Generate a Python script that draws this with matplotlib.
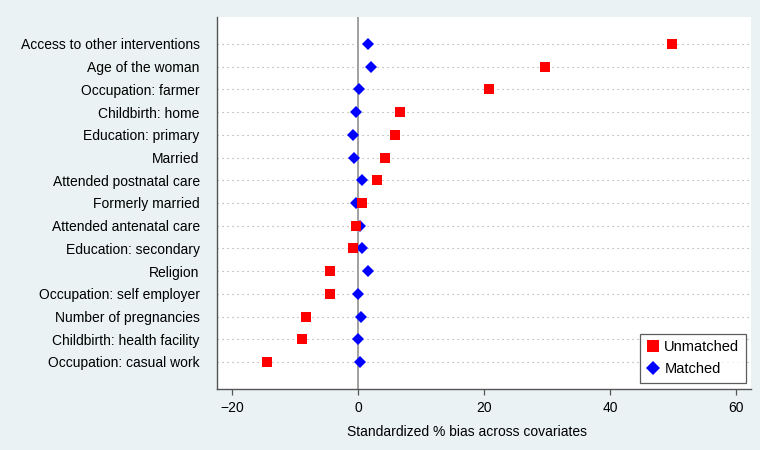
import matplotlib
matplotlib.use("Agg")
import matplotlib.pyplot as plt

covariates = [
    "Access to other interventions",
    "Age of the woman",
    "Occupation: farmer",
    "Childbirth: home",
    "Education: primary",
    "Married",
    "Attended postnatal care",
    "Formerly married",
    "Attended antenatal care",
    "Education: secondary",
    "Religion",
    "Occupation: self employer",
    "Number of pregnancies",
    "Childbirth: health facility",
    "Occupation: casual work",
]
unmatched = [49.7, 29.6, 20.7, 6.7, 5.9, 4.3, 3.0, 0.6, -0.4, -0.9, -4.5, -4.5, -8.3, -8.9, -14.4]
matched = [1.6, 2.0, 0.2, -0.3, -0.8, -0.7, 0.6, -0.3, 0.35, 0.6, 1.6, 0.0, 0.5, 0.0, 0.35]
xticks = [-20, 0, 20, 40, 60]

BG = "#EAF2F3"
plt.rcParams['font.family'] = ['Liberation Sans', 'DejaVu Sans']
FS = 10.0

fig = plt.figure(figsize=(7.6, 4.5), dpi=100, facecolor=BG)
ax = fig.add_axes([217/760, 1-389/450, (751-217)/760, (389-16.7)/450])
ax.set_facecolor("white")

n = len(covariates)
ypos = list(range(n, 0, -1))

for y in ypos:
    ax.axhline(y, color="#a0a0a0", linestyle=(0, (1, 3.5)), linewidth=0.8, zorder=1)
ax.axvline(0, color="#999999", linewidth=1.3, zorder=2)

ax.plot(matched, ypos, linestyle="none", marker="D", markersize=6.0,
        color="#0000FF", markeredgewidth=0, zorder=3, label="Matched")
ax.plot(unmatched, ypos, linestyle="none", marker="s", markersize=7.5,
        color="#FF0000", markeredgewidth=0, zorder=4, label="Unmatched")

ax.set_xlim(-22.4, 62.3)
ax.set_ylim(1 - 1.19, n + 1.2)
ax.set_yticks(ypos)
ax.set_yticklabels(covariates, fontsize=FS)
ax.tick_params(axis="y", length=0, pad=12.5)
ax.set_xticks(xticks)
ax.set_xticklabels(["\u221220" if t == -20 else str(t) for t in xticks], fontsize=FS)
ax.tick_params(axis="x", length=4, width=0.9, color="#555555", pad=5)

for s in ["top", "right"]:
    ax.spines[s].set_visible(False)
ax.spines["left"].set_color("#555555")
ax.spines["bottom"].set_color("#555555")
ax.spines["left"].set_linewidth(1.0)
ax.spines["bottom"].set_linewidth(1.0)

fig.text(467/760, 1-432/450, "Standardized % bias across covariates",
         ha="center", va="center", fontsize=FS)

handles, labels = ax.get_legend_handles_labels()
leg = ax.legend(handles[::-1], labels[::-1], loc="lower right",
                bbox_to_anchor=((746-217)/534, (389-383)/372.3),
                frameon=True, fancybox=False, fontsize=10.5, handletextpad=0.4,
                handlelength=0.8, borderpad=0.45, labelspacing=0.55, borderaxespad=0,
                markerscale=1.15)
leg.get_frame().set_edgecolor("#333333")
leg.get_frame().set_linewidth(0.9)

fig.savefig("out.png", dpi=100, facecolor=BG)
